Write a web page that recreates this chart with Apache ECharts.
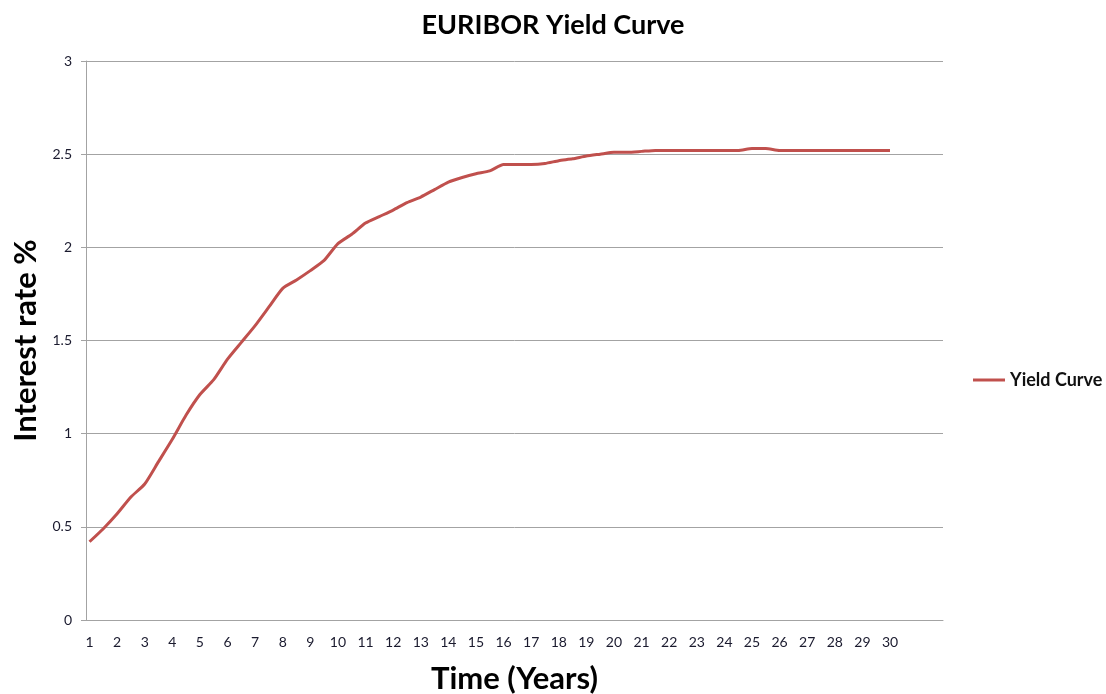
<!DOCTYPE html>
<html>
<head>
<meta charset="utf-8">
<title>EURIBOR Yield Curve</title>
<script src="https://cdn.jsdelivr.net/npm/echarts@6/dist/echarts.min.js"></script>
<style>
  html, body { margin: 0; padding: 0; background: #ffffff; overflow: hidden; }
  #chart { width: 1106px; height: 694px; }
</style>
</head>
<body>
<div id="chart"></div>
<script>
// Maturity in years (half-year steps) and the EURIBOR rate in percent
const years = [
  1, 1.5, 2, 2.5, 3, 3.5, 4, 4.5, 5, 5.5,
  6, 6.5, 7, 7.5, 8, 8.5, 9, 9.5, 10, 10.5,
  11, 11.5, 12, 12.5, 13, 13.5, 14, 14.5, 15, 15.5,
  16, 16.5, 17, 17.5, 18, 18.5, 19, 19.5, 20, 20.5,
  21, 21.5, 22, 22.5, 23, 23.5, 24, 24.5, 25, 25.5,
  26, 26.5, 27, 27.5, 28, 28.5, 29, 29.5, 30
];
const rates = [
  0.42, 0.49, 0.57, 0.66, 0.73, 0.85, 0.97, 1.10, 1.21, 1.29,
  1.40, 1.49, 1.58, 1.68, 1.78, 1.825, 1.875, 1.93, 2.02, 2.07,
  2.13, 2.165, 2.20, 2.24, 2.27, 2.31, 2.35, 2.375, 2.395, 2.41,
  2.445, 2.445, 2.445, 2.45, 2.465, 2.475, 2.49, 2.50, 2.51, 2.51,
  2.515, 2.52, 2.52, 2.52, 2.52, 2.52, 2.52, 2.52, 2.53, 2.53,
  2.52, 2.52, 2.52, 2.52, 2.52, 2.52, 2.52, 2.52, 2.52
];
// Labelled years on the horizontal axis
const yearTicks = [
  1, 2, 3, 4, 5, 6, 7, 8, 9, 10, 11, 12, 13, 14, 15,
  16, 17, 18, 19, 20, 21, 22, 23, 24, 25, 26, 27, 28, 29, 30
];
const seriesName = 'Yield Curve';

const FONT = 'Lato, "Open Sans", "Liberation Sans", sans-serif';
const GRID_COLOR = '#a3a3a3';
const LABEL_COLOR = '#1a1a2e';

const chart = echarts.init(document.getElementById('chart'), null, { renderer: 'canvas' });

chart.setOption({
  backgroundColor: '#ffffff',
  animation: false,
  title: {
    text: 'EURIBOR Yield Curve',
    left: 'center',
    top: 7,
    textStyle: { fontFamily: FONT, fontSize: 27, fontWeight: 'bold', color: '#000000' }
  },
  legend: {
    data: [{ name: seriesName, icon: 'rect' }],
    left: 973,
    top: 371,
    padding: 0,
    itemWidth: 32,
    itemHeight: 3,
    textStyle: { fontFamily: FONT, fontSize: 18, fontWeight: 'bold', color: '#111111' }
  },
  // fixed plot rectangle; axis names sit outside it without shrinking it
  grid: {
    left: 86, right: 163, top: 61, bottom: 74,
    containLabel: false,
    outerBoundsMode: 'none'
  },
  xAxis: {
    type: 'value',
    min: 0.873,
    max: 31.92,
    name: 'Time (Years)',
    nameLocation: 'middle',
    nameGap: 43,
    nameTextStyle: { fontFamily: FONT, fontSize: 31, fontWeight: 'bold', color: '#000000' },
    axisLine: { show: true, lineStyle: { color: GRID_COLOR, width: 1 } },
    axisTick: { show: false },
    splitLine: { show: false },
    axisLabel: {
      customValues: yearTicks,
      margin: 15,
      fontFamily: FONT,
      fontSize: 14,
      color: LABEL_COLOR
    }
  },
  yAxis: {
    type: 'value',
    min: 0,
    max: 3,
    interval: 0.5,
    name: 'Interest rate %',
    nameLocation: 'middle',
    nameGap: 43,
    nameTextStyle: { fontFamily: FONT, fontSize: 31, fontWeight: 'bold', color: '#000000' },
    axisLine: { show: true, lineStyle: { color: GRID_COLOR, width: 1 } },
    axisTick: { show: true, length: 5, inside: false, lineStyle: { color: GRID_COLOR } },
    splitLine: { show: true, lineStyle: { color: GRID_COLOR, width: 1 } },
    axisLabel: {
      margin: 14,
      fontFamily: FONT,
      fontSize: 14,
      color: LABEL_COLOR
    }
  },
  series: [{
    name: seriesName,
    type: 'line',
    data: years.map((y, i) => [y, rates[i]]),
    showSymbol: false,
    symbol: 'none',
    smooth: 0.2,
    lineStyle: { color: '#c0504d', width: 3 },
    itemStyle: { color: '#c0504d' }
  }]
});
</script>
</body>
</html>
